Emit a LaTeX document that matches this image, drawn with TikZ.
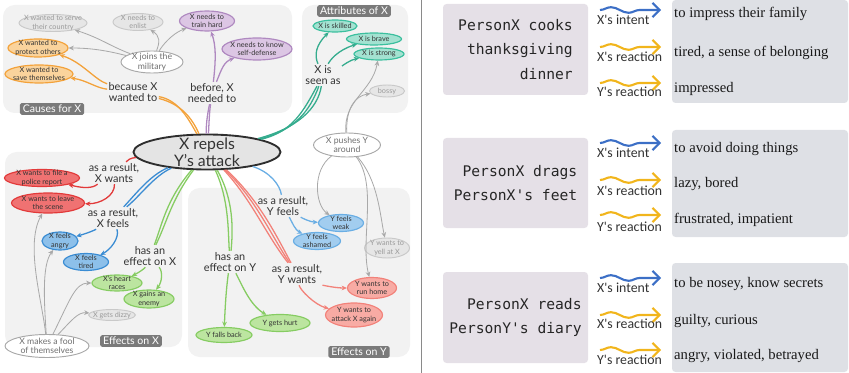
\documentclass[tikz,border=0pt]{standalone}
\usepackage{fontspec}
\setmainfont{Lato}
\newfontfamily\monofam{DejaVu Sans Mono}
\newfontfamily\serfam{Liberation Serif}
\newfontfamily\calfam{Carlito}
\usetikzlibrary{shapes.geometric,arrows.meta,decorations.pathmorphing}

\definecolor{areaG}{HTML}{F2F2F2}
\definecolor{tagG}{HTML}{7A7A7A}
\definecolor{txtD}{HTML}{333333}
\definecolor{orF}{HTML}{FAD39C}
\definecolor{orD}{HTML}{F3A23A}
\definecolor{puF}{HTML}{DCC6E4}
\definecolor{puD}{HTML}{AF89C0}
\definecolor{teF}{HTML}{A3E2D1}
\definecolor{teD}{HTML}{3BBF9E}
\definecolor{reF}{HTML}{F07272}
\definecolor{reD}{HTML}{E23A3A}
\definecolor{blF}{HTML}{8DC0EA}
\definecolor{blD}{HTML}{3A8CD3}
\definecolor{lbF}{HTML}{A2CDEF}
\definecolor{lbD}{HTML}{6AAEE4}
\definecolor{pkF}{HTML}{F8ABA4}
\definecolor{pkD}{HTML}{F2827A}
\definecolor{grF}{HTML}{BCE5A0}
\definecolor{grD}{HTML}{86CC62}
\definecolor{gyF}{HTML}{E6E6E6}
\definecolor{gyD}{HTML}{C9C9C9}
\definecolor{gyT}{HTML}{9A9A9A}
\definecolor{wtD}{HTML}{A8A8A8}
\definecolor{wtT}{HTML}{707070}
\definecolor{edG}{HTML}{A9A9A9}
\definecolor{ctrF}{HTML}{E4E4E4}
\definecolor{ctrD}{HTML}{2E2E2E}
\definecolor{boxL}{HTML}{E5E0E7}
\definecolor{boxR}{HTML}{DEE0E5}
\definecolor{intB}{HTML}{3C6FC6}
\definecolor{reaO}{HTML}{F1B51C}
\definecolor{sepG}{HTML}{8A8A8A}

\begin{document}
\begin{tikzpicture}[x=0.03cm,y=-0.03cm,
  sz/.style 2 args={minimum width=#1*0.03cm, minimum height=#2*0.03cm},
  bub/.style={ellipse, draw, line width=1pt, inner xsep=-8pt, inner ysep=-4pt,
    align=center, text=txtD, font=\fontsize{6.2}{7}\selectfont},
  orN/.style={bub, fill=orF, draw=orD},
  puN/.style={bub, fill=puF, draw=puD},
  teN/.style={bub, fill=teF, draw=teD},
  reN/.style={bub, fill=reF, draw=reD},
  blN/.style={bub, fill=blF, draw=blD},
  lbN/.style={bub, fill=lbF, draw=lbD},
  pkN/.style={bub, fill=pkF, draw=pkD},
  grN/.style={bub, fill=grF, draw=grD},
  gyN/.style={bub, fill=gyF, draw=gyD, text=gyT, line width=0.8pt},
  wtN/.style={bub, fill=white, draw=wtD, text=wtT, line width=0.8pt,
    font=\fontsize{7.4}{8}\selectfont},
  ctr/.style={ellipse, draw=ctrD, fill=ctrF, line width=1.6pt, inner sep=-6pt,
    align=center, text=txtD, font=\fontsize{13.5}{14.5}\selectfont},
  lab/.style={align=center, text=txtD, font=\fontsize{9.3}{9.8}\selectfont, inner sep=1pt},
  tag/.style={fill=tagG, rounded corners=1.5pt, text=white, font=\fontsize{9}{10}\selectfont,
    inner xsep=2.5pt, inner ysep=1pt, text height=6.6pt, text depth=1.4pt},
  area/.style={fill=areaG, rounded corners=10pt},
  arr/.style={-{Stealth[length=4.5pt,width=4pt]}},
  oE/.style={draw=orD, line width=1.1pt},
  pE/.style={draw=puD, line width=1.1pt},
  tE/.style={draw=teD!90!black, line width=1.1pt},
  rE/.style={draw=reD, line width=1.1pt},
  bE/.style={draw=blD, line width=1.1pt},
  lbE/.style={draw=lbD, line width=1.1pt},
  pkE/.style={draw=pkD, line width=1.1pt},
  gnE/.style={draw=grD, line width=1.1pt},
  gE/.style={draw=edG, line width=0.7pt},
  lbox/.style={fill=boxL, rounded corners=3pt, align=right, text=black!85,
    font=\monofam\fontsize{12.5}{21}\selectfont, inner sep=0pt},
  rbox/.style={fill=boxR, rounded corners=3pt, inner sep=0pt},
  ans/.style={anchor=base west, inner sep=0pt, text=black!90,
    font=\serfam\fontsize{12.5}{14}\selectfont},
  rel/.style={anchor=base west, inner sep=0pt, text=black!80,
    font=\calfam\fontsize{11.8}{13}\selectfont},
  wave/.style={decorate, decoration={snake, amplitude=2.4pt, segment length=30pt, post length=6pt},
    line width=1.8pt, -{Straight Barb[length=6pt,width=12pt]}}
]
\useasboundingbox (0,0) rectangle (849,373);

% ---------- grouped regions ----------
\fill[area] (3,5) rectangle (292,113);
\fill[area] (302,5) rectangle (408,113);
\fill[area] (5,152) rectangle (182,347);
\fill[area] (188,188) rectangle (410,357);

\node[tag] (tCause) at (52,109) {Causes for X};
\node[tag] (tAttr) at (354,11) {Attributes of X};
\node[tag] (tEffX) at (131,341) {Effects on X};
\node[tag] (tEffY) at (359,352) {Effects on Y};

% ---------- central event ----------
\node[ctr, sz={147}{35}] (nC) at (207,152) {X repels\\Y's attack};

% ---------- causes ----------
\node[gyN, sz={68}{17}] (cServe) at (53,23) {X wanted to serve\\their country};
\node[gyN, sz={50}{17}] (cEnlist) at (138,22) {X needs to\\enlist};
\node[wtN, sz={62}{22}] (cJoin) at (152,62) {X joins the\\military};
\node[orN, sz={60}{18}] (cProtect) at (38,48) {X wanted to\\protect others};
\node[orN, sz={68}{18}] (cSave) at (39,74) {X wanted to\\save themselves};
\node[lab] (lBecause) at (133,92) {because X\\wanted to};
\node[puN, sz={55}{20}] (cTrain) at (207,21) {X needs to\\train hard};
\node[puN, sz={70}{22}] (cKnow) at (257,49) {X needs to know\\self-defense};
\node[lab] (lBefore) at (212,93) {before, X\\needed to};

% ---------- attributes ----------
\node[teN, sz={44}{12}] (aSkilled) at (335,26) {X is skilled};
\node[teN, sz={55}{12}] (aBrave) at (374,39) {X is brave};
\node[teN, sz={50}{12}] (aStrong) at (379,54) {X is strong};
\node[lab] (lSeen) at (323,75) {X is\\seen as};
\node[gyN, sz={35}{12}] (aBossy) at (387,91) {bossy};
\node[wtN, sz={67}{24}] (nPush) at (347,145) {X pushes Y\\around};

% ---------- effects on X ----------
\node[reN, sz={75}{17}] (ePolice) at (42,178) {X wants to file a\\police report};
\node[reN, sz={73}{20}] (eLeave) at (48,203) {X wants to leave\\the scene};
\node[lab] (lXwants) at (114,173) {as a result,\\X wants};
\node[lab] (lXfeels) at (113,218) {as a result,\\X feels};
\node[blN, sz={36}{18}] (eAngry) at (60,241) {X feels\\angry};
\node[blN, sz={45}{17}] (eTired) at (86,262) {X feels\\tired};
\node[lab] (lEffX) at (150,256) {has an\\effect on X};
\node[grN, sz={50}{16}] (eHeart) at (117,283) {X's heart\\races};
\node[grN, sz={50}{18}] (eEnemy) at (149,299) {X gains an\\enemy};
\node[gyN, sz={47}{11}] (eDizzy) at (112,315) {X gets dizzy};
\node[wtN, sz={84}{23}] (eFool) at (47,346) {X makes a fool\\of themselves};

% ---------- effects on Y ----------
\node[lab] (lYfeels) at (283,206) {as a result,\\Y feels};
\node[lbN, sz={45}{17}] (yWeak) at (341,223) {Y feels\\weak};
\node[lbN, sz={47}{17}] (yAshamed) at (317,241) {Y feels\\ashamed};
\node[gyN, sz={45}{20}] (yYell) at (387,248) {Y wants to\\yell at X};
\node[lab] (lEffY) at (230,262) {has an\\effect on Y};
\node[lab] (lYwants) at (297,274) {as a result,\\Y wants};
\node[pkN, sz={49}{21}] (yRun) at (372,288) {Y wants to\\run home};
\node[pkN, sz={57}{24}] (yAttack) at (354,315) {Y wants to\\attack X again};
\node[grN, sz={56}{15}] (yFalls) at (224,335) {Y falls back};
\node[grN, sz={60}{17}] (yHurt) at (280,323) {Y gets hurt};

% ---------- connectors: causes ----------
\draw[oE] (nC) .. controls (188,118) and (178,100) .. (lBecause);
\draw[oE] (nC) .. controls (192,118) and (181,104) .. (lBecause);
\draw[oE,arr] (lBecause) .. controls (95,80) and (82,62) .. (cProtect);
\draw[oE,arr] (lBecause) .. controls (96,88) and (86,80) .. (cSave);

\draw[gE,arr] (cJoin) .. controls (110,46) and (100,38) .. (cServe);
\draw[gE,arr] (cJoin) .. controls (112,52) and (95,48) .. (cProtect);
\draw[gE,arr] (cJoin) .. controls (160,42) and (160,36) .. (cEnlist);
\draw[gE,arr] (cJoin) .. controls (166,40) and (176,32) .. (cTrain);

\draw[pE] (nC) .. controls (206,126) and (207,116) .. (lBefore);
\draw[pE] (nC) .. controls (209,126) and (209,116) .. (lBefore);
\draw[pE,arr] (lBefore) .. controls (216,60) and (216,45) .. (cTrain);
\draw[pE,arr] (lBefore) .. controls (222,68) and (224,62) .. (cKnow);

% ---------- connectors: attributes ----------
\draw[tE] (nC) .. controls (292,132) and (303,112) .. (lSeen);
\draw[tE] (nC) .. controls (296,130) and (310,110) .. (lSeen);
\draw[tE] (nC) .. controls (298,128) and (318,108) .. (lSeen);
\draw[tE,arr] (lSeen) .. controls (314,55) and (316,45) .. (aSkilled);
\draw[tE,arr] (lSeen) .. controls (330,60) and (338,50) .. (aBrave);
\draw[tE,arr] (lSeen) .. controls (342,66) and (350,60) .. (aStrong);

\draw[gE,arr] (nPush) .. controls (343,100) and (372,92) .. (aStrong);
\draw[gE,arr] (nPush) .. controls (346,108) and (355,96) .. (aBossy);
\draw[gE,arr] (nPush) .. controls (312,170) and (315,205) .. (yWeak);
\draw[gE,arr] (nPush) .. controls (378,180) and (380,215) .. (yYell);
\draw[gE,arr] (nPush) .. controls (378,185) and (360,240) .. (yRun);

% ---------- connectors: effects on X ----------
\draw[rE] (nC) .. controls (130,158) and (128,160) .. (lXwants);
\draw[rE,arr] (lXwants) .. controls (95,186) and (90,190) .. (ePolice);
\draw[rE,arr] (lXwants) .. controls (115,196) and (100,204) .. (eLeave);

\draw[bE] (nC) .. controls (150,175) and (135,195) .. (lXfeels);
\draw[bE] (nC) .. controls (154,176) and (140,196) .. (lXfeels);
\draw[bE,arr] (lXfeels) .. controls (95,230) and (88,233) .. (eAngry);
\draw[bE,arr] (lXfeels) .. controls (120,238) and (110,250) .. (eTired);

\draw[gnE] (nC) .. controls (166,200) and (162,225) .. (lEffX);
\draw[gnE] (nC) .. controls (171,200) and (166,225) .. (lEffX);
\draw[gnE,arr] (lEffX) .. controls (145,268) and (140,272) .. (eHeart);
\draw[gnE,arr] (lEffX) .. controls (163,272) and (162,282) .. (eEnemy);

\draw[gE,arr] (eFool) .. controls (42,300) and (25,245) .. (eLeave);
\draw[gE,arr] (eFool) .. controls (44,300) and (42,265) .. (eAngry);
\draw[gE,arr] (eFool) .. controls (70,300) and (75,283) .. (eHeart);
\draw[gE,arr] (eFool) .. controls (72,320) and (78,312) .. (eDizzy);

% ---------- connectors: effects on Y ----------
\draw[lbE] (nC) .. controls (270,172) and (280,185) .. (lYfeels);
\draw[lbE,arr] (lYfeels) .. controls (302,218) and (310,222) .. (yWeak);
\draw[lbE,arr] (lYfeels) .. controls (292,222) and (295,230) .. (yAshamed);

\draw[gnE] (nC) .. controls (229,200) and (228,230) .. (lEffY);
\draw[gnE] (nC) .. controls (234,200) and (233,230) .. (lEffY);
\draw[gnE,arr] (lEffY) .. controls (226,290) and (225,310) .. (yFalls);
\draw[gnE,arr] (lEffY) .. controls (242,285) and (250,305) .. (yHurt);

\draw[pkE] (nC) .. controls (252,200) and (266,235) .. (lYwants);
\draw[pkE] (nC) .. controls (256,200) and (271,235) .. (lYwants);
\draw[pkE] (nC) .. controls (259,200) and (276,235) .. (lYwants);
\draw[pkE,arr] (lYwants) .. controls (322,285) and (335,288) .. (yRun);
\draw[pkE,arr] (lYwants) .. controls (300,290) and (315,305) .. (yAttack);

% ---------- divider ----------
\draw[sepG, line width=0.6pt] (421,0) -- (421,373);

% ---------- event / inference rows ----------
\node[lbox, sz={145}{91}] (ev1) at (515.5,49.5) {PersonX cooks\\thanksgiving\\dinner};
\node[lbox, sz={145}{90}] (ev2) at (515.5,183) {PersonX drags\\PersonX's feet};
\node[lbox, sz={145}{91}] (ev3) at (515.5,317.5) {PersonX reads\\PersonY's diary};

\node[rbox, sz={176}{103}] (in1) at (760,51.5) {};
\node[rbox, sz={176}{107}] (in2) at (760,183.5) {};
\node[rbox, sz={176}{109}] (in3) at (760,317.5) {};

\node[ans] (a11) at (674,18) {to impress their family};
\node[ans] (a12) at (674,57) {tired, a sense of belonging};
\node[ans] (a13) at (674,93) {impressed};
\node[ans] (a21) at (674,153) {to avoid doing things};
\node[ans] (a22) at (674,188) {lazy, bored};
\node[ans] (a23) at (674,224) {frustrated, impatient};
\node[ans] (a31) at (674,287) {to be nosey, know secrets};
\node[ans] (a32) at (674,324) {guilty, curious};
\node[ans] (a33) at (674,359) {angry, violated, betrayed};

\foreach \i/\yy/\cc/\lab/\by in {
  1/10/intB/{X's intent}/25,
  2/47/reaO/{X's reaction}/62,
  3/83/reaO/{Y's reaction}/97,
  4/143/intB/{X's intent}/158,
  5/180/reaO/{X's reaction}/195,
  6/215/reaO/{Y's reaction}/231,
  7/278/intB/{X's intent}/292,
  8/315/reaO/{X's reaction}/328,
  9/350/reaO/{Y's reaction}/364}{
  \coordinate (wS\i) at (600,\yy);
  \coordinate (wE\i) at (661,\yy);
  \draw[wave, draw=\cc] (wS\i) -- (wE\i);
  \node[rel] (rl\i) at (597,\by) {\lab};
}
\end{tikzpicture}
\end{document}
